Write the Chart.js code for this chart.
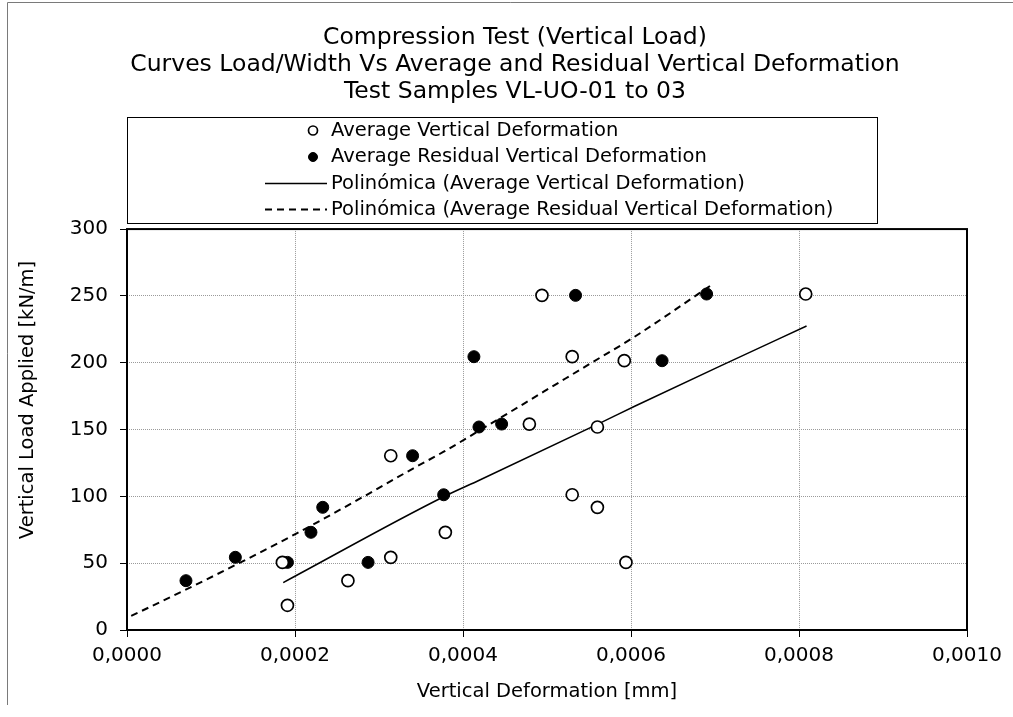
<!DOCTYPE html>
<html>
<head>
<meta charset="utf-8">
<script src="https://cdn.jsdelivr.net/npm/chart.js@4.4.0/dist/chart.umd.min.js"></script>
<style>
html,body{margin:0;padding:0;background:#fff;}
canvas{display:block;}
</style>
</head>
<body>
<canvas id="c" width="1013" height="717"></canvas>
<script>
// ---------- texts ----------
const titleLines = [
  'Compression Test (Vertical Load)',
  'Curves Load/Width Vs Average and Residual Vertical Deformation',
  'Test Samples VL-UO-01 to 03'
];
const seriesLabels = [
  'Average Vertical Deformation',
  'Average Residual Vertical Deformation',
  'Polinómica (Average Vertical Deformation)',
  'Polinómica (Average Residual Vertical Deformation)'
];
const xAxisTitle = 'Vertical Deformation [mm]';
const yAxisTitle = 'Vertical Load Applied [kN/m]';

// ---------- tick values ----------
const xTickValues = [0, 0.0002, 0.0004, 0.0006, 0.0008, 0.0010];
const yTickValues = [0, 50, 100, 150, 200, 250, 300];

// ---------- data ----------
const avgDefX = [0.000185, 0.000191, 0.000263, 0.000314, 0.000314, 0.000379, 0.000479, 0.000494,
                 0.000530, 0.000592, 0.000560, 0.000530, 0.000560, 0.000594, 0.000808];
const avgLoad = [50.6, 18.5, 36.9, 130.4, 54.4, 73.1, 154.1, 250.4,
                 204.5, 201.5, 151.9, 101.2, 91.8, 50.6, 251.4];

const resDefX = [0.0000702, 0.000129, 0.000191, 0.000219, 0.000233, 0.000287, 0.000340,
                 0.000377, 0.000413, 0.000419, 0.000446, 0.000534, 0.000637, 0.000690];
const resLoad = [36.9, 54.4, 50.6, 73.1, 91.8, 50.6, 130.4,
                 101.2, 204.5, 151.9, 154.1, 250.4, 201.5, 251.4];

const trendAvgX = [0.000186, 0.000377, 0.000420, 0.000563, 0.000605, 0.000706, 0.000809];
const trendAvgY = [35.5, 99.7, 112.2, 154.8, 167.6, 197.5, 227.5];

const trendResX = [0.000005, 0.000069, 0.000129, 0.000202, 0.000285, 0.000341,
                   0.000377, 0.000432, 0.000496, 0.000555, 0.000603, 0.000694];
const trendResY = [10.5, 29.9, 48.6, 72.3, 101.0, 121.0,
                   133.4, 154.0, 178.3, 200.7, 218.9, 257.4];

const toPts = (xs, ys) => xs.map((x, i) => ({x: x, y: ys[i]}));

const FONT = '"DejaVu Sans", sans-serif';
Chart.defaults.font.family = FONT;
Chart.defaults.color = '#000';

// legend in a box, one row per series
const boxLegend = {
  id: 'boxLegend',
  afterDraw(chart) {
    const ctx = chart.ctx;
    const L = 127, T = 117, R = 877, B = 223;
    const rows = [130.5, 157, 183.5, 209.5];
    ctx.save();
    ctx.strokeStyle = '#000';
    ctx.lineWidth = 1;
    ctx.strokeRect(L + 0.5, T + 0.5, R - L, B - T);
    ctx.font = '19.5px ' + FONT;
    ctx.textBaseline = 'middle';
    ctx.textAlign = 'left';
    chart.data.datasets.forEach((ds, i) => {
      const y = rows[i];
      if (ds.showLine) {
        ctx.beginPath();
        ctx.setLineDash(ds.borderDash || []);
        ctx.lineWidth = ds.borderWidth;
        ctx.strokeStyle = ds.borderColor;
        ctx.moveTo(265, y);
        ctx.lineTo(327, y);
        ctx.stroke();
        ctx.setLineDash([]);
      } else {
        ctx.beginPath();
        ctx.arc(313, y, 4.5, 0, Math.PI * 2);
        ctx.fillStyle = ds.pointBackgroundColor;
        ctx.fill();
        ctx.lineWidth = ds.pointBorderWidth;
        ctx.strokeStyle = ds.pointBorderColor;
        ctx.stroke();
      }
      ctx.fillStyle = '#000';
      ctx.fillText(ds.label, 331, y);
    });
    ctx.restore();
  }
};

// plot frame, outer frame, y axis title
const frames = {
  id: 'frames',
  afterDatasetsDraw(chart) {
    const {ctx, chartArea: a} = chart;
    ctx.save();
    ctx.strokeStyle = '#000';
    ctx.lineWidth = 2;
    ctx.strokeRect(a.left, a.top, a.right - a.left, a.bottom - a.top);
    ctx.restore();
  },
  afterDraw(chart) {
    const ctx = chart.ctx;
    ctx.save();
    ctx.strokeStyle = '#7a7a7a';
    ctx.lineWidth = 1;
    ctx.beginPath();
    ctx.moveTo(7.5, 705);
    ctx.lineTo(7.5, 2.5);
    ctx.lineTo(1013, 2.5);
    ctx.stroke();
    ctx.translate(28, 400);
    ctx.rotate(-Math.PI / 2);
    ctx.font = '19.5px ' + FONT;
    ctx.fillStyle = '#000';
    ctx.textAlign = 'center';
    ctx.textBaseline = 'middle';
    ctx.fillText(yAxisTitle, 0, 0);
    ctx.restore();
  }
};

new Chart(document.getElementById('c'), {
  type: 'scatter',
  data: {
    datasets: [
      {
        label: seriesLabels[0],
        data: toPts(avgDefX, avgLoad),
        showLine: false,
        pointRadius: 6,
        pointHoverRadius: 6,
        pointBackgroundColor: '#fff',
        pointBorderColor: '#000',
        pointBorderWidth: 1.7
      },
      {
        label: seriesLabels[1],
        data: toPts(resDefX, resLoad),
        showLine: false,
        pointRadius: 6,
        pointHoverRadius: 6,
        pointBackgroundColor: '#000',
        pointBorderColor: '#000',
        pointBorderWidth: 1
      },
      {
        label: seriesLabels[2],
        data: toPts(trendAvgX, trendAvgY),
        showLine: true,
        pointRadius: 0,
        borderColor: '#000',
        borderWidth: 1.5,
        cubicInterpolationMode: 'monotone'
      },
      {
        label: seriesLabels[3],
        data: toPts(trendResX, trendResY),
        showLine: true,
        pointRadius: 0,
        borderColor: '#000',
        borderWidth: 2,
        borderDash: [7, 5],
        cubicInterpolationMode: 'monotone'
      }
    ]
  },
  options: {
    responsive: false,
    animation: false,
    layout: { padding: { left: 63, right: 46, top: 0, bottom: 0 } },
    plugins: {
      legend: { display: false },
      tooltip: { enabled: false },
      title: {
        display: true,
        text: titleLines,
        color: '#000',
        font: { size: 23.5, weight: 'normal', lineHeight: 1.15 },
        padding: { top: 24, bottom: 124 }
      }
    },
    scales: {
      x: {
        type: 'linear',
        min: 0,
        max: 0.001,
        afterBuildTicks: s => { s.ticks = xTickValues.map(v => ({value: v})); },
        afterFit: s => { s.height = 87; },
        grid: {
          color: '#9a9a9a',
          lineWidth: 1,
          tickLength: 7,
          tickColor: '#000',
          tickBorderDash: []
        },
        border: { display: false, dash: [1, 1] },
        ticks: {
          padding: 7,
          maxRotation: 0,
          font: { size: 20 },
          color: '#000',
          callback: v => v.toFixed(4).replace('.', ',')
        },
        title: {
          display: true,
          text: xAxisTitle,
          color: '#000',
          font: { size: 19.5 },
          padding: { top: 0, bottom: 13 }
        }
      },
      y: {
        type: 'linear',
        min: 0,
        max: 300,
        afterBuildTicks: s => { s.ticks = yTickValues.map(v => ({value: v})); },
        afterFit: s => { s.width = 64; },
        grid: {
          color: '#9a9a9a',
          lineWidth: 1,
          tickLength: 7,
          tickColor: '#000',
          tickBorderDash: []
        },
        border: { display: false, dash: [1, 1] },
        ticks: {
          padding: 12,
          font: { size: 20 },
          color: '#000'
        }
      }
    }
  },
  plugins: [boxLegend, frames]
});
</script>
</body>
</html>
